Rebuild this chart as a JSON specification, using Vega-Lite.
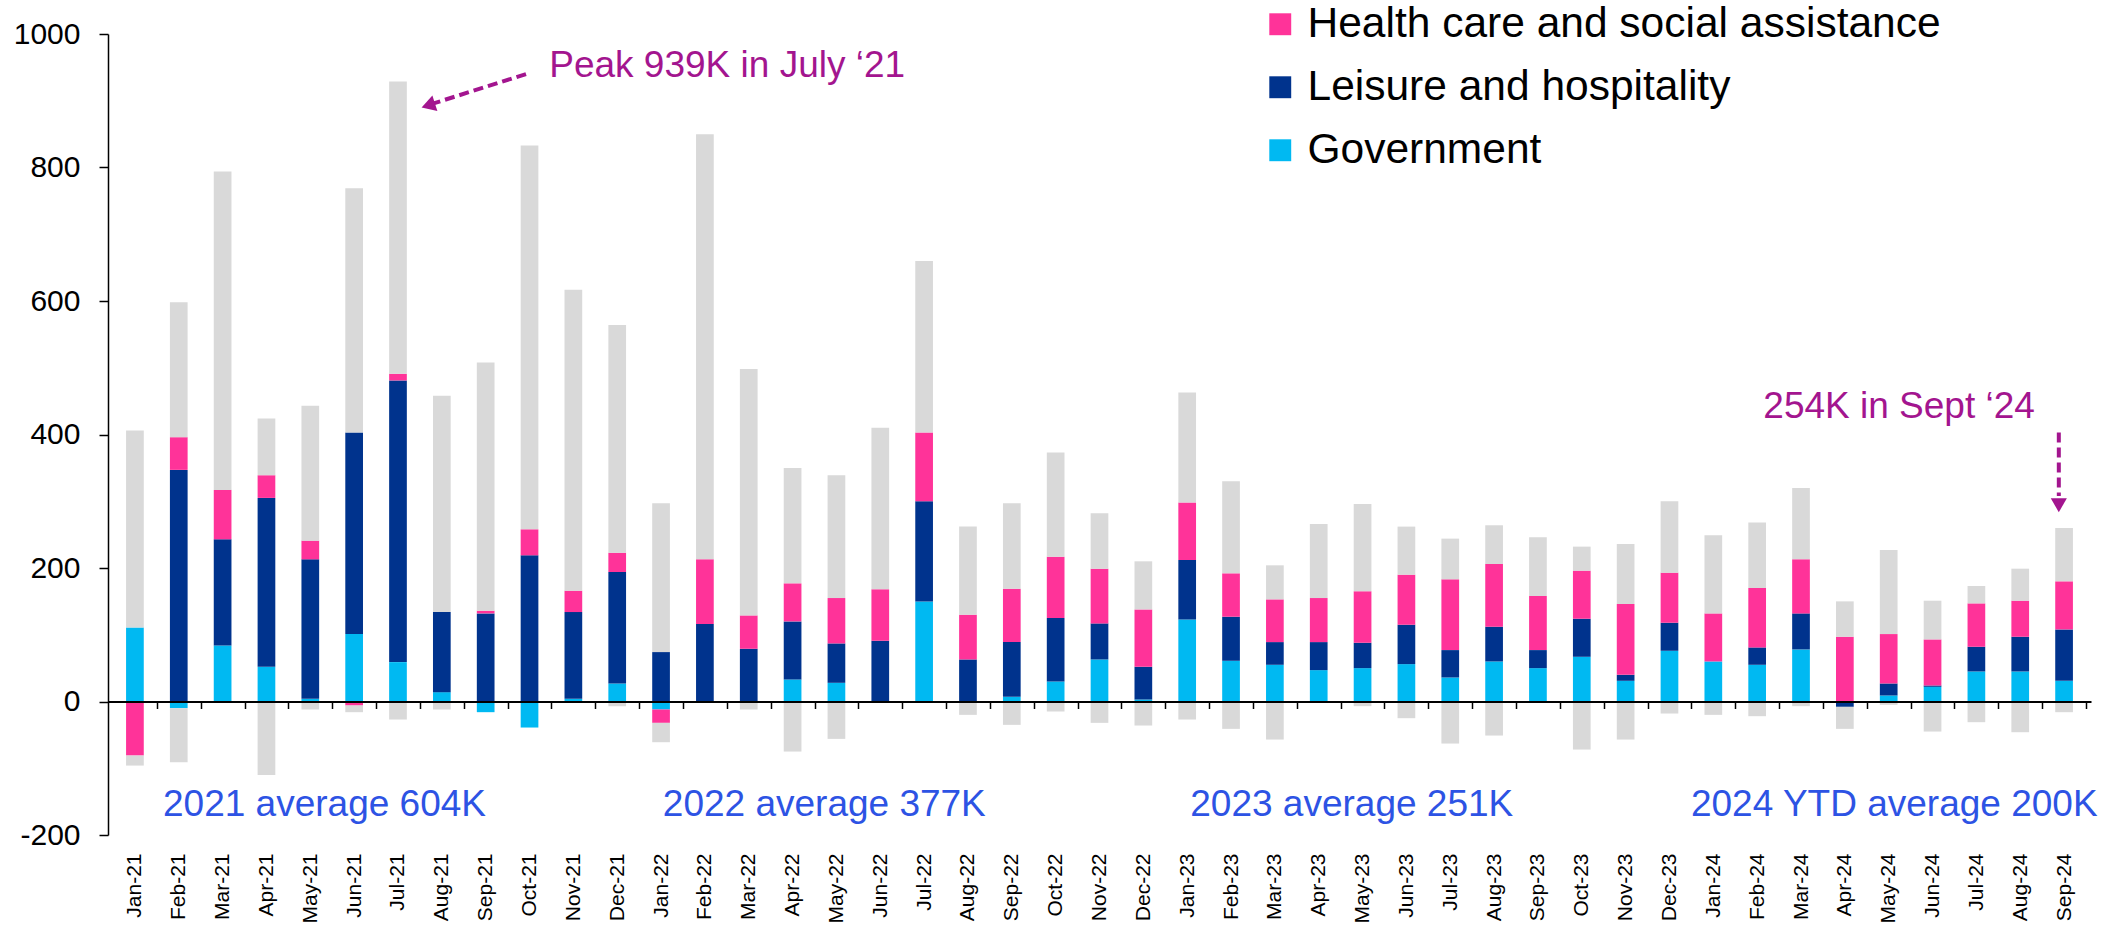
{
  "$schema": "https://vega.github.io/schema/vega-lite/v6.json",
  "width": 1983,
  "height": 801,
  "autosize": {"type": "none"},
  "padding": {"left": 108, "top": 34, "right": 37, "bottom": 91},
  "config": {"font": "Liberation Sans", "view": {"stroke": null}, "axis": {"grid": false}},
  "datasets": {
    "jobs": [
      {"i": 0, "month": "Jan-21", "Government": 111, "Leisure and hospitality": 0, "Health care and social assistance": -81, "Other (gains)": 295, "Other (losses)": -15},
      {"i": 1, "month": "Feb-21", "Government": -10, "Leisure and hospitality": 347, "Health care and social assistance": 49, "Other (gains)": 202, "Other (losses)": -81},
      {"i": 2, "month": "Mar-21", "Government": 84, "Leisure and hospitality": 159, "Health care and social assistance": 74, "Other (gains)": 477, "Other (losses)": 0},
      {"i": 3, "month": "Apr-21", "Government": 52, "Leisure and hospitality": 253, "Health care and social assistance": 34, "Other (gains)": 85, "Other (losses)": -110},
      {"i": 4, "month": "May-21", "Government": 4, "Leisure and hospitality": 209, "Health care and social assistance": 28, "Other (gains)": 202, "Other (losses)": -12},
      {"i": 5, "month": "Jun-21", "Government": 101, "Leisure and hospitality": 302, "Health care and social assistance": -6, "Other (gains)": 366, "Other (losses)": -10},
      {"i": 6, "month": "Jul-21", "Government": 59, "Leisure and hospitality": 422, "Health care and social assistance": 10, "Other (gains)": 438, "Other (losses)": -27},
      {"i": 7, "month": "Aug-21", "Government": 14, "Leisure and hospitality": 120, "Health care and social assistance": 0, "Other (gains)": 324, "Other (losses)": -12},
      {"i": 8, "month": "Sep-21", "Government": -16, "Leisure and hospitality": 132, "Health care and social assistance": 4, "Other (gains)": 372, "Other (losses)": 0},
      {"i": 9, "month": "Oct-21", "Government": -39, "Leisure and hospitality": 219, "Health care and social assistance": 39, "Other (gains)": 575, "Other (losses)": 0},
      {"i": 10, "month": "Nov-21", "Government": 4, "Leisure and hospitality": 130, "Health care and social assistance": 32, "Other (gains)": 451, "Other (losses)": 0},
      {"i": 11, "month": "Dec-21", "Government": 27, "Leisure and hospitality": 167, "Health care and social assistance": 29, "Other (gains)": 341, "Other (losses)": -7},
      {"i": 12, "month": "Jan-22", "Government": -12, "Leisure and hospitality": 74, "Health care and social assistance": -20, "Other (gains)": 223, "Other (losses)": -29},
      {"i": 13, "month": "Feb-22", "Government": -2, "Leisure and hospitality": 116, "Health care and social assistance": 97, "Other (gains)": 637, "Other (losses)": 0},
      {"i": 14, "month": "Mar-22", "Government": 0, "Leisure and hospitality": 79, "Health care and social assistance": 50, "Other (gains)": 369, "Other (losses)": -12},
      {"i": 15, "month": "Apr-22", "Government": 33, "Leisure and hospitality": 87, "Health care and social assistance": 57, "Other (gains)": 173, "Other (losses)": -75},
      {"i": 16, "month": "May-22", "Government": 28, "Leisure and hospitality": 59, "Health care and social assistance": 68, "Other (gains)": 184, "Other (losses)": -56},
      {"i": 17, "month": "Jun-22", "Government": 0, "Leisure and hospitality": 91, "Health care and social assistance": 77, "Other (gains)": 242, "Other (losses)": 0},
      {"i": 18, "month": "Jul-22", "Government": 150, "Leisure and hospitality": 150, "Health care and social assistance": 103, "Other (gains)": 257, "Other (losses)": 0},
      {"i": 19, "month": "Aug-22", "Government": 0, "Leisure and hospitality": 63, "Health care and social assistance": 67, "Other (gains)": 132, "Other (losses)": -20},
      {"i": 20, "month": "Sep-22", "Government": 7, "Leisure and hospitality": 82, "Health care and social assistance": 80, "Other (gains)": 128, "Other (losses)": -35},
      {"i": 21, "month": "Oct-22", "Government": 30, "Leisure and hospitality": 95, "Health care and social assistance": 92, "Other (gains)": 156, "Other (losses)": -15},
      {"i": 22, "month": "Nov-22", "Government": 63, "Leisure and hospitality": 54, "Health care and social assistance": 82, "Other (gains)": 83, "Other (losses)": -32},
      {"i": 23, "month": "Dec-22", "Government": 3, "Leisure and hospitality": 49, "Health care and social assistance": 86, "Other (gains)": 72, "Other (losses)": -36},
      {"i": 24, "month": "Jan-23", "Government": 123, "Leisure and hospitality": 89, "Health care and social assistance": 86, "Other (gains)": 165, "Other (losses)": -27},
      {"i": 25, "month": "Feb-23", "Government": 61, "Leisure and hospitality": 66, "Health care and social assistance": 65, "Other (gains)": 138, "Other (losses)": -41},
      {"i": 26, "month": "Mar-23", "Government": 55, "Leisure and hospitality": 34, "Health care and social assistance": 64, "Other (gains)": 51, "Other (losses)": -57},
      {"i": 27, "month": "Apr-23", "Government": 47, "Leisure and hospitality": 42, "Health care and social assistance": 66, "Other (gains)": 111, "Other (losses)": 0},
      {"i": 28, "month": "May-23", "Government": 50, "Leisure and hospitality": 38, "Health care and social assistance": 77, "Other (gains)": 131, "Other (losses)": -7},
      {"i": 29, "month": "Jun-23", "Government": 56, "Leisure and hospitality": 59, "Health care and social assistance": 75, "Other (gains)": 72, "Other (losses)": -25},
      {"i": 30, "month": "Jul-23", "Government": 36, "Leisure and hospitality": 41, "Health care and social assistance": 106, "Other (gains)": 61, "Other (losses)": -63},
      {"i": 31, "month": "Aug-23", "Government": 60, "Leisure and hospitality": 52, "Health care and social assistance": 94, "Other (gains)": 58, "Other (losses)": -51},
      {"i": 32, "month": "Sep-23", "Government": 50, "Leisure and hospitality": 27, "Health care and social assistance": 81, "Other (gains)": 88, "Other (losses)": 0},
      {"i": 33, "month": "Oct-23", "Government": 67, "Leisure and hospitality": 57, "Health care and social assistance": 72, "Other (gains)": 36, "Other (losses)": -72},
      {"i": 34, "month": "Nov-23", "Government": 31, "Leisure and hospitality": 9, "Health care and social assistance": 106, "Other (gains)": 90, "Other (losses)": -57},
      {"i": 35, "month": "Dec-23", "Government": 76, "Leisure and hospitality": 42, "Health care and social assistance": 75, "Other (gains)": 107, "Other (losses)": -18},
      {"i": 36, "month": "Jan-24", "Government": 60, "Leisure and hospitality": 0, "Health care and social assistance": 72, "Other (gains)": 117, "Other (losses)": -20},
      {"i": 37, "month": "Feb-24", "Government": 55, "Leisure and hospitality": 26, "Health care and social assistance": 89, "Other (gains)": 98, "Other (losses)": -22},
      {"i": 38, "month": "Mar-24", "Government": 78, "Leisure and hospitality": 54, "Health care and social assistance": 81, "Other (gains)": 107, "Other (losses)": -7},
      {"i": 39, "month": "Apr-24", "Government": 0, "Leisure and hospitality": -8, "Health care and social assistance": 97, "Other (gains)": 53, "Other (losses)": -33},
      {"i": 40, "month": "May-24", "Government": 9, "Leisure and hospitality": 18, "Health care and social assistance": 74, "Other (gains)": 126, "Other (losses)": -5},
      {"i": 41, "month": "Jun-24", "Government": 22, "Leisure and hospitality": 2, "Health care and social assistance": 69, "Other (gains)": 58, "Other (losses)": -45},
      {"i": 42, "month": "Jul-24", "Government": 45, "Leisure and hospitality": 37, "Health care and social assistance": 65, "Other (gains)": 26, "Other (losses)": -31},
      {"i": 43, "month": "Aug-24", "Government": 45, "Leisure and hospitality": 52, "Health care and social assistance": 54, "Other (gains)": 48, "Other (losses)": -46},
      {"i": 44, "month": "Sep-24", "Government": 31, "Leisure and hospitality": 77, "Health care and social assistance": 72, "Other (gains)": 80, "Other (losses)": -16}
    ],
    "stackOrder": [
      {"series": "Government", "rank": 1},
      {"series": "Leisure and hospitality", "rank": 2},
      {"series": "Health care and social assistance", "rank": 3},
      {"series": "Other (gains)", "rank": 4},
      {"series": "Other (losses)", "rank": 4}
    ],
    "averages": [
      {"x": 0.64, "y": -171, "label": "2021 average 604K"},
      {"x": 12.04, "y": -171, "label": "2022 average 377K"},
      {"x": 24.07, "y": -171, "label": "2023 average 251K"},
      {"x": 35.49, "y": -171, "label": "2024 YTD average 200K"}
    ],
    "callouts": [
      {"x": 9.45, "y": 935, "label": "Peak 939K in July ‘21"},
      {"x": 37.14, "y": 425, "label": "254K in Sept ‘24"}
    ],
    "arrows": [
      {"x": 8.92, "y": 940, "x2": 6.81, "y2": 896},
      {"x": 43.88, "y": 403, "x2": 43.88, "y2": 308}
    ],
    "peakHead": [{"x": 6.69, "y": 893}],
    "septHead": [{"x": 43.88, "y": 294}]
  },
  "layer": [
    {
      "data": {"name": "jobs"},
      "transform": [
        {"fold": ["Government", "Leisure and hospitality", "Health care and social assistance", "Other (gains)", "Other (losses)"], "as": ["series", "value"]},
        {"lookup": "series", "from": {"data": {"name": "stackOrder"}, "key": "series", "fields": ["rank"]}}
      ],
      "mark": {"type": "bar", "orient": "vertical", "size": 17.7},
      "encoding": {
        "x": {
          "field": "i", "type": "quantitative",
          "scale": {"domain": [-0.5, 44.5], "nice": false, "zero": false},
          "axis": {
            "orient": "bottom",
            "values": [0,1,2,3,4,5,6,7,8,9,10,11,12,13,14,15,16,17,18,19,20,21,22,23,24,25,26,27,28,29,30,31,32,33,34,35,36,37,38,39,40,41,42,43,44],
            "labelExpr": "timeFormat(datetime(2021, datum.value, 1), '%b-%y')",
            "labelAngle": -90, "labelFontSize": 21, "labelColor": "black", "labelPadding": 18,
            "ticks": false, "domain": false, "title": null, "grid": false,
            "labelOverlap": false, "labelBound": false, "labelFlush": false
          }
        },
        "y": {
          "field": "value", "type": "quantitative", "stack": "zero",
          "scale": {"domain": [-200, 1000], "nice": false, "zero": false},
          "axis": {
            "orient": "left",
            "values": [-200, 0, 200, 400, 600, 800, 1000],
            "labelExpr": "'' + datum.value",
            "labelFontSize": 30, "labelColor": "black", "labelPadding": 19,
            "ticks": true, "tickSize": 9, "tickWidth": 1.5, "tickColor": "black",
            "domain": true, "domainColor": "black", "domainWidth": 1.5,
            "title": null, "grid": false
          }
        },
        "color": {
          "field": "series", "type": "nominal",
          "scale": {
            "domain": ["Health care and social assistance", "Leisure and hospitality", "Government", "Other (gains)", "Other (losses)"],
            "range": ["#FF3399", "#00338D", "#00B9F2", "#D9D9D9", "#D9D9D9"]
          },
          "legend": {
            "values": ["Health care and social assistance", "Leisure and hospitality", "Government"],
            "orient": "none", "legendX": 1151, "legendY": -31, "title": null,
            "symbolType": "square", "symbolSize": 480, "symbolStrokeWidth": 0,
            "labelFontSize": 42.5, "labelColor": "black", "labelOffset": 6, "labelLimit": 1000,
            "rowPadding": 20, "padding": 0
          }
        },
        "order": {"field": "rank", "type": "quantitative", "sort": "ascending"}
      }
    },
    {
      "data": {"name": "averages"},
      "mark": {"type": "text", "align": "left", "baseline": "alphabetic", "fontSize": 37, "color": "#2D53E4"},
      "encoding": {
        "x": {
          "field": "x", "type": "quantitative",
          "axis": {
            "orient": "bottom", "offset": -133.5,
            "values": [0.5,1.5,2.5,3.5,4.5,5.5,6.5,7.5,8.5,9.5,10.5,11.5,12.5,13.5,14.5,15.5,16.5,17.5,18.5,19.5,20.5,21.5,22.5,23.5,24.5,25.5,26.5,27.5,28.5,29.5,30.5,31.5,32.5,33.5,34.5,35.5,36.5,37.5,38.5,39.5,40.5,41.5,42.5,43.5,44.5],
            "labels": false, "ticks": true, "tickSize": 7, "tickWidth": 1.5, "tickColor": "black",
            "domain": true, "domainColor": "black", "domainWidth": 2,
            "title": null, "grid": false, "zindex": 1
          }
        },
        "y": {"field": "y", "type": "quantitative", "axis": null},
        "text": {"field": "label"}
      }
    },
    {
      "data": {"name": "callouts"},
      "mark": {"type": "text", "align": "left", "baseline": "alphabetic", "fontSize": 37, "color": "#A3158F"},
      "encoding": {
        "x": {"field": "x", "type": "quantitative", "axis": null},
        "y": {"field": "y", "type": "quantitative", "axis": null},
        "text": {"field": "label"}
      }
    },
    {
      "data": {"name": "arrows"},
      "mark": {"type": "rule", "strokeDash": [10, 5], "strokeWidth": 4, "color": "#A3158F"},
      "encoding": {
        "x": {"field": "x", "type": "quantitative", "axis": null},
        "y": {"field": "y", "type": "quantitative", "axis": null},
        "x2": {"field": "x2"},
        "y2": {"field": "y2"}
      }
    },
    {
      "data": {"name": "peakHead"},
      "mark": {"type": "point", "shape": "triangle-up", "angle": 252, "filled": true, "size": 260, "color": "#A3158F", "opacity": 1},
      "encoding": {
        "x": {"field": "x", "type": "quantitative", "axis": null},
        "y": {"field": "y", "type": "quantitative", "axis": null}
      }
    },
    {
      "data": {"name": "septHead"},
      "mark": {"type": "point", "shape": "triangle-down", "filled": true, "size": 260, "color": "#A3158F", "opacity": 1},
      "encoding": {
        "x": {"field": "x", "type": "quantitative", "axis": null},
        "y": {"field": "y", "type": "quantitative", "axis": null}
      }
    }
  ],
  "resolve": {"axis": {"x": "independent", "y": "independent"}}
}
